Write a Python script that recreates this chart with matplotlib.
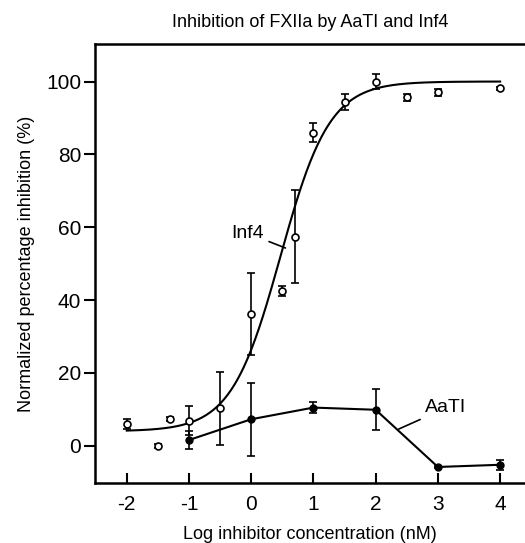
import numpy as np
import matplotlib
matplotlib.use('Agg')
import matplotlib.pyplot as plt

plt.rcParams['font.family'] = ['Liberation Sans', 'DejaVu Sans']
plt.rcParams['axes.unicode_minus'] = False

# Inf4 (open circles)
inf4_x = [-2, -1.5, -1.3, -1, -0.5, 0, 0.5, 0.7, 1, 1.5, 2, 2.5, 3, 4]
inf4_y = [6.0, 0.0, 7.3, 6.9, 10.3, 36.1, 42.5, 57.4, 86.0, 94.3, 100.0, 95.7, 97.0, 98.1]
inf4_err = [1.5, 0.5, 0.5, 4.0, 10.0, 11.3, 1.5, 12.8, 2.7, 2.2, 2.0, 1.0, 1.0, 0.5]

# Inf4 sigmoidal fit (bottom, top, logEC50, hill slope)
fit_bottom = 4.0
fit_top = 100.0
fit_logec50 = 0.47
fit_hill = 1.1

# AaTI (filled circles)
aati_x = [-1, 0, 1, 2, 3, 4]
aati_y = [1.6, 7.3, 10.5, 9.9, -5.8, -5.2]
aati_err = [2.4, 10.0, 1.6, 5.6, 0.3, 1.3]

fig = plt.figure(figsize=(5.25, 5.43), dpi=100)
ax = fig.add_axes([0.181, 0.1105, 0.819, 0.8085])

xs = np.linspace(-2, 4, 300)
fit = fit_bottom + (fit_top - fit_bottom) / (1 + 10 ** ((fit_logec50 - xs) * fit_hill))
ax.plot(xs, fit, color='black', lw=1.5)

ax.errorbar(inf4_x, inf4_y, yerr=inf4_err, fmt='o', mfc='white', mec='black',
            ms=5, mew=1.2, ecolor='black', elinewidth=1.2, capsize=3, capthick=1.2)

ax.errorbar(aati_x, aati_y, yerr=aati_err, fmt='-o', color='black', ms=5,
            lw=1.5, elinewidth=1.2, capsize=3, capthick=1.2)

ax.annotate('Inf4', xy=(0.55, 54.3), xytext=(0.2, 58.4), fontsize=14,
            ha='right', va='center', arrowprops=dict(arrowstyle='-', lw=1.2, color='black',
                                                     shrinkA=2, shrinkB=0))
ax.annotate('AaTI', xy=(2.37, 4.6), xytext=(2.8, 10.4), fontsize=14,
            ha='left', va='center', arrowprops=dict(arrowstyle='-', lw=1.2, color='black',
                                                    shrinkA=2, shrinkB=0))

ax.set_xlim(-2.51, 4.4)
ax.set_ylim(-10.2, 110.3)
ax.set_xticks([-2, -1, 0, 1, 2, 3, 4])
ax.set_yticks([0, 20, 40, 60, 80, 100])
ax.spines['right'].set_visible(False)
for s in ['left', 'bottom', 'top']:
    ax.spines[s].set_linewidth(1.8)
ax.tick_params(axis='x', direction='in', length=7, width=1.5, labelsize=15, pad=9)
ax.tick_params(axis='y', direction='out', length=8, width=1.5, labelsize=15, pad=2)

ax.set_xlabel('Log inhibitor concentration (nM)', fontsize=13, labelpad=8)
ax.set_ylabel('Normalized percentage inhibition (%)', fontsize=13, labelpad=8)
ax.set_title('Inhibition of FXIIa by AaTI and Inf4', fontsize=13, pad=12)

fig.savefig('out.png', dpi=100)
